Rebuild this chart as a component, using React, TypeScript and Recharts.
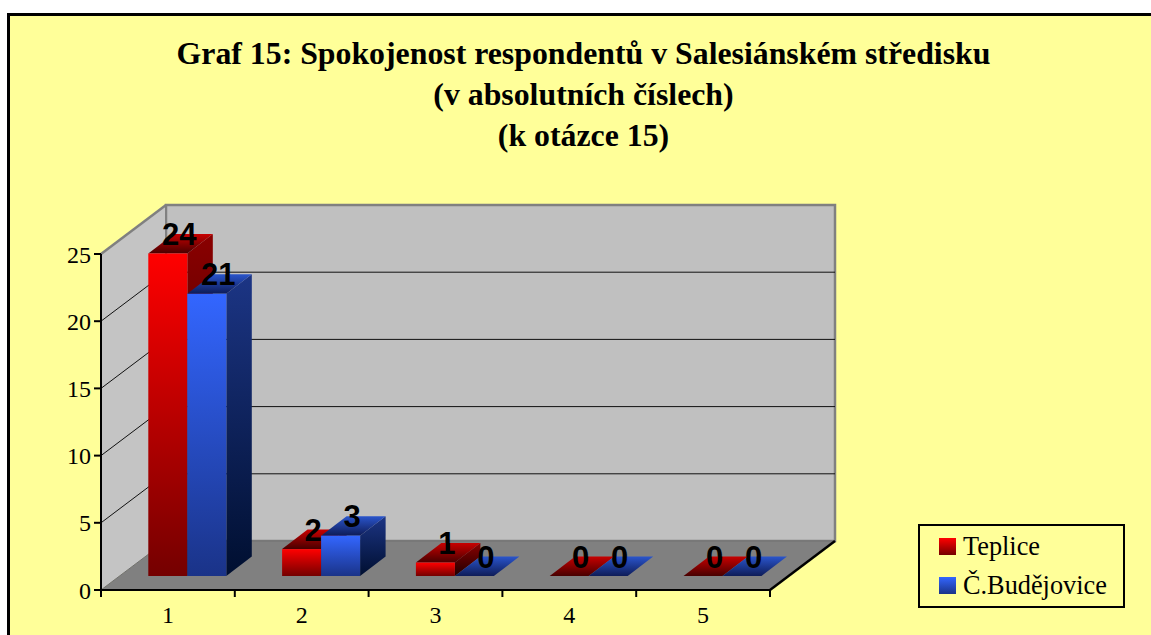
import { BarChart, Bar, XAxis, YAxis, CartesianGrid, LabelList, Legend } from 'recharts'

const CATEGORIES = ['1', '2', '3', '4', '5']
const TEPLICE = [24, 2, 1, 0, 0]
const BUDEJOVICE = [21, 3, 0, 0, 0]
const Y_TICKS = [0, 5, 10, 15, 20, 25]
const TITLE_LINES = ['Graf 15: Spokojenost respondentů v Salesiánském středisku', '(v absolutních číslech)', '(k otázce 15)']

const chartData = CATEGORIES.map((name, i) => ({ name, teplice: TEPLICE[i], budejovice: BUDEJOVICE[i] }))

// front plane of the fake 3D box
const LEFT = 101
const RIGHT = 770
const TOP = 254
const BOTTOM = 590
const WALL_DX = 65
const WALL_DY = 49
// bars stand part of the way into the floor
const BAR_DX = 19.3
const BAR_DY = 14
const BOX_DX = 25.5
const BOX_DY = 19.5
const SERIF = '"Liberation Serif", serif'

// sits under the transparent chart, so the grid lines show on top of it
function Walls() {
  const pts = (list: number[][]) => list.map((p) => p.join(',')).join(' ')
  return (
    <svg width={1151} height={635} style={{ position: 'absolute', left: 0, top: 0 }}>
      <defs>
        <linearGradient id="redFront" x1="0" y1="0" x2="0" y2="1">
          <stop offset="0" stopColor="#FF0000" />
          <stop offset="1" stopColor="#740000" />
        </linearGradient>
        <linearGradient id="redTop" x1="0" y1="0" x2="0" y2="1">
          <stop offset="0" stopColor="#C80000" />
          <stop offset="1" stopColor="#480000" />
        </linearGradient>
        <linearGradient id="redSide" x1="0" y1="0" x2="0" y2="1">
          <stop offset="0" stopColor="#8A0000" />
          <stop offset="1" stopColor="#200000" />
        </linearGradient>
        <linearGradient id="blueFront" x1="0" y1="0" x2="0" y2="1">
          <stop offset="0" stopColor="#3366FF" />
          <stop offset="1" stopColor="#1A3388" />
        </linearGradient>
        <linearGradient id="blueTop" x1="0" y1="0" x2="0" y2="1">
          <stop offset="0" stopColor="#2A55CC" />
          <stop offset="1" stopColor="#0E1C58" />
        </linearGradient>
        <linearGradient id="blueSide" x1="0" y1="0" x2="0" y2="1">
          <stop offset="0" stopColor="#1C3585" />
          <stop offset="1" stopColor="#000F30" />
        </linearGradient>
      </defs>
      <rect x={LEFT + WALL_DX} y={TOP - WALL_DY} width={RIGHT - LEFT} height={BOTTOM - TOP} fill="#C0C0C0" stroke="#808080" strokeWidth={2.5} />
      <polygon
        points={pts([[LEFT, TOP], [LEFT + WALL_DX, TOP - WALL_DY], [LEFT + WALL_DX, BOTTOM - WALL_DY], [LEFT, BOTTOM]])}
        fill="#C4C4C4"
      />
      <polyline points={pts([[LEFT, TOP], [LEFT + WALL_DX, TOP - WALL_DY]])} stroke="#808080" strokeWidth={2.5} fill="none" />
      <line x1={LEFT + WALL_DX} y1={TOP - WALL_DY} x2={LEFT + WALL_DX} y2={BOTTOM - WALL_DY} stroke="#808080" strokeWidth={2} />
      <polygon
        points={pts([[LEFT, BOTTOM], [RIGHT, BOTTOM], [RIGHT + WALL_DX, BOTTOM - WALL_DY], [LEFT + WALL_DX, BOTTOM - WALL_DY]])}
        fill="#808080"
        stroke="#707070"
        strokeWidth={1}
      />
      <line x1={RIGHT} y1={BOTTOM} x2={RIGHT + WALL_DX} y2={BOTTOM - WALL_DY} stroke="#000" strokeWidth={2.5} />
    </svg>
  )
}

function wallLine(props: any) {
  const { y1, key } = props
  if (y1 <= TOP + 1 || y1 >= BOTTOM - 1) return <g key={key} />
  return (
    <polyline
      key={key}
      points={`${LEFT},${y1} ${LEFT + WALL_DX},${y1 - WALL_DY} ${RIGHT + WALL_DX},${y1 - WALL_DY}`}
      fill="none"
      stroke="#111"
      strokeWidth={1}
    />
  )
}

function Box(props: any) {
  const { x, y, width, height, tone } = props
  const fx = x + BAR_DX
  const fy = y - BAR_DY
  const r = fx + width
  const b = fy + height
  return (
    <g>
      {height > 0 && <polygon points={`${r},${fy} ${r + BOX_DX},${fy - BOX_DY} ${r + BOX_DX},${b - BOX_DY} ${r},${b}`} fill={`url(#${tone}Side)`} />}
      <polygon points={`${fx},${fy} ${r},${fy} ${r + BOX_DX},${fy - BOX_DY} ${fx + BOX_DX},${fy - BOX_DY}`} fill={`url(#${tone}Top)`} />
      {height > 0 && <rect x={fx} y={fy} width={width} height={height} fill={`url(#${tone}Front)`} />}
    </g>
  )
}

function ValueLabel(props: any) {
  const { x, y, width, value } = props
  return (
    <text
      x={x + BAR_DX + width / 2 + 11.5}
      y={y - BAR_DY - 8.5}
      textAnchor="middle"
      fontFamily='"Liberation Sans", sans-serif'
      fontWeight="bold"
      fontSize={31}
      fill="#000"
    >
      {value}
    </text>
  )
}

function CategoryTick(props: any) {
  const { x, y, payload, index } = props
  const band = (RIGHT - LEFT) / CATEGORIES.length
  return (
    <g>
      <line x1={x - band / 2} y1={BOTTOM} x2={x - band / 2} y2={BOTTOM + 7} stroke="#000" strokeWidth={2} />
      {index === CATEGORIES.length - 1 && <line x1={x + band / 2} y1={BOTTOM} x2={x + band / 2} y2={BOTTOM + 7} stroke="#000" strokeWidth={2} />}
      <text x={x} y={y + 25} textAnchor="middle" fontFamily={SERIF} fontSize={24} fill="#000">
        {payload.value}
      </text>
    </g>
  )
}

function LegendBox() {
  const rows = [
    { label: 'Teplice', bg: 'linear-gradient(#FF0000, #740000)' },
    { label: 'Č.Budějovice', bg: 'linear-gradient(#3366FF, #1A3388)' },
  ]
  return (
    <div style={{ boxSizing: 'border-box', width: 207, height: 84, border: '2px solid #000', background: '#FFFF99', paddingTop: 1 }}>
      {rows.map((row) => (
        <div key={row.label} style={{ display: 'flex', alignItems: 'center', height: 39, paddingLeft: 19, fontFamily: SERIF, fontSize: 26.3, color: '#000' }}>
          <span style={{ display: 'inline-block', width: 17, height: 17, background: row.bg, marginRight: 7 }} />
          {row.label}
        </div>
      ))}
    </div>
  )
}

export default function App() {
  return (
    <div style={{ position: 'absolute', left: 0, top: 0, width: 1151, height: 635, overflow: 'hidden', background: '#fff' }}>
      <div style={{ position: 'absolute', left: 7, top: 13, width: 1200, height: 700, boxSizing: 'border-box', border: '3px solid #000', background: '#FFFF99' }} />
      <div style={{ position: 'absolute', left: 0, width: 1167, top: 33, textAlign: 'center', fontFamily: SERIF, fontWeight: 'bold', fontSize: 31.8, lineHeight: '41px', color: '#000' }}>
        {TITLE_LINES.map((line) => (
          <div key={line}>{line}</div>
        ))}
      </div>
      <Walls />
      <div style={{ position: 'absolute', left: 0, top: 0 }}>
        <BarChart
          width={1151}
          height={635}
          data={chartData}
          margin={{ top: TOP, right: 1151 - RIGHT, bottom: 0, left: 0 }}
          barSize={39}
          barGap={0}
        >
          <CartesianGrid horizontal={wallLine} vertical={false} />
          <XAxis dataKey="name" height={635 - BOTTOM} axisLine={{ stroke: '#000', strokeWidth: 2 }} tickLine={false} tick={<CategoryTick />} interval={0} />
          <YAxis
            width={LEFT}
            domain={[0, 25]}
            ticks={Y_TICKS}
            interval={0}
            tickSize={7}
            tickMargin={3}
            axisLine={{ stroke: '#000', strokeWidth: 2 }}
            tickLine={{ stroke: '#000', strokeWidth: 2 }}
            tick={{ fill: '#000', fontFamily: SERIF, fontSize: 24 }}
          />
          <Legend
            layout="vertical"
            align="center"
            verticalAlign="middle"
            wrapperStyle={{ left: 918, top: 524, width: 207, height: 84 }}
            content={<LegendBox />}
          />
          <Bar dataKey="teplice" name="Teplice" fill="#FF0000" isAnimationActive={false} shape={(p: any) => <Box {...p} tone="red" />}>
            <LabelList dataKey="teplice" content={<ValueLabel />} />
          </Bar>
          <Bar dataKey="budejovice" name="Č.Budějovice" fill="#3366FF" isAnimationActive={false} shape={(p: any) => <Box {...p} tone="blue" />}>
            <LabelList dataKey="budejovice" content={<ValueLabel />} />
          </Bar>
        </BarChart>
      </div>
    </div>
  )
}
